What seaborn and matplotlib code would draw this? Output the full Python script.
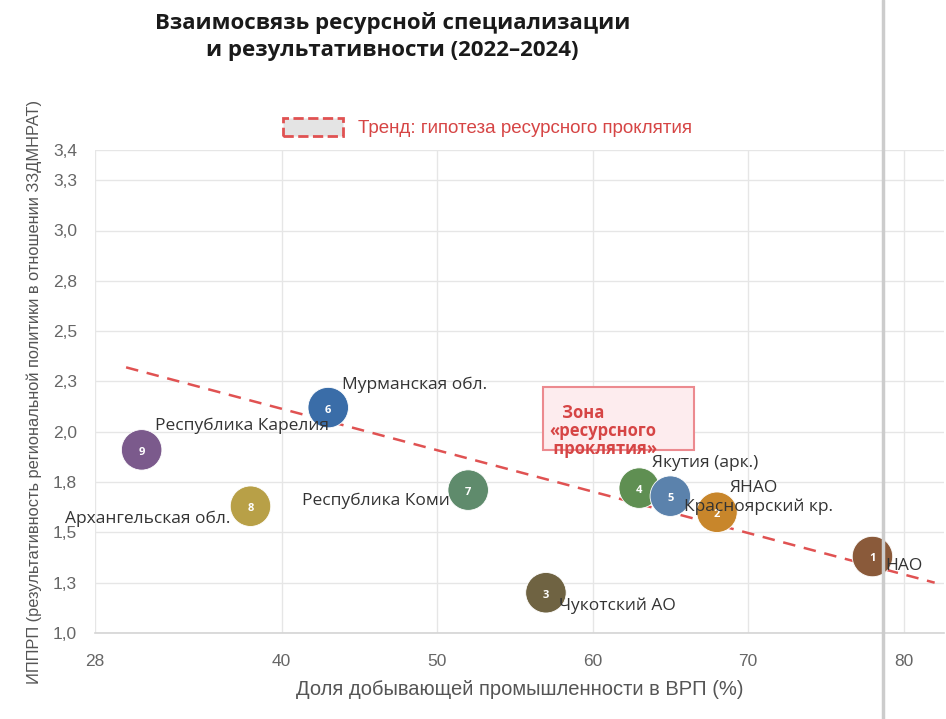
import numpy as np
import pandas as pd
import seaborn as sns
import matplotlib.pyplot as plt
from matplotlib.patches import Patch, Rectangle
from matplotlib.lines import Line2D

# Regions, numbered as in the original chart
numbers = [1, 2, 3, 4, 5, 6, 7, 8, 9]
regions = ["НАО", "ЯНАО", "Чукотский АО", "Якутия (арк.)", "Красноярский кр.",
           "Мурманская обл.", "Республика Коми", "Архангельская обл.",
           "Республика Карелия"]
mining_share = [78, 68, 57, 63, 65, 43, 52, 38, 31]           # % of GRP
ipprp = [1.38, 1.60, 1.20, 1.72, 1.68, 2.12, 1.71, 1.63, 1.91]
colors = ["#8a5a3a", "#c8862b", "#6f6342", "#5f8f52", "#5b82ac",
          "#3a6da8", "#5f8b6c", "#b8a047", "#7b5a8c"]

trend_x = [30, 82]
trend_y = [2.32, 1.25]

x_ticks = [28, 40, 50, 60, 70, 80]
y_ticks = [1.0, 1.25, 1.5, 1.75, 2.0, 2.25, 2.5, 2.75, 3.0, 3.25, 3.4]
y_tick_labels = ["1,0", "1,3", "1,5", "1,8", "2,0", "2,3", "2,5", "2,8",
                 "3,0", "3,3", "3,4"]

df = pd.DataFrame({"num": numbers, "region": regions,
                   "x": mining_share, "y": ipprp})

sns.set_theme(style="white")
plt.rcParams["font.family"] = ["Open Sans", "DejaVu Sans"]

fig = plt.figure(figsize=(9.46, 7.19), dpi=100)
ax = fig.add_axes([95 / 946, 86 / 719, 849 / 946, 483 / 719])

# trend line
ax.plot(trend_x, trend_y, color="#e05252", lw=1.8, ls=(0, (5, 3.5)), zorder=2)

sns.scatterplot(data=df, x="x", y="y", hue="region", palette=colors,
                s=850, edgecolor="white", linewidth=0.6, legend=False,
                zorder=3, ax=ax)

for _, r in df.iterrows():
    ax.text(r.x, r.y - 0.012, str(r.num), color="white", fontsize=8,
            fontweight="bold", ha="center", va="center", zorder=4)

# label placement: offset in pixels from bubble centre
label_pos = {
    "НАО": (13, -9, "left"), "ЯНАО": (13, 24, "left"),
    "Чукотский АО": (13, -13, "left"), "Якутия (арк.)": (13, 25, "left"),
    "Красноярский кр.": (14, -11, "left"), "Мурманская обл.": (14, 23, "left"),
    "Республика Коми": (-18, -11, "right"),
    "Архангельская обл.": (-20, -13, "right"),
    "Республика Карелия": (13, 24, "left"),
}
for _, r in df.iterrows():
    dx, dy, ha = label_pos[r.region]
    ax.annotate(r.region, (r.x, r.y), xytext=(dx, dy),
                textcoords="offset pixels", ha=ha, va="center",
                fontsize=12.5, color="#333333", zorder=5, annotation_clip=False)

# resource curse zone box
ax.add_patch(Rectangle((56.8, 1.91), 9.7, 0.314, facecolor="#fdecee",
                       edgecolor="#ec8a8f", lw=1.5, zorder=1))
ax.text(57.2, 2.005, "   Зона\n«ресурсного\n проклятия»", color="#d64545",
        fontsize=12, fontweight="bold", ha="left", va="center",
        linespacing=1.0, zorder=5)

ax.set_xlim(28, 82.6)
ax.set_ylim(1.0, 3.4)
ax.set_xticks(x_ticks)
ax.set_yticks(y_ticks)
ax.set_yticklabels(y_tick_labels)
ax.grid(True, color="#e6e6e6", lw=1)
for side in ["top", "right", "left"]:
    ax.spines[side].set_visible(False)
ax.spines["bottom"].set_color("#d4d4d4")
ax.spines["bottom"].set_linewidth(1.2)
ax.tick_params(axis="x", length=10, color="#e6e6e6", pad=5, labelsize=12.5,
               labelcolor="#666666")
ax.tick_params(axis="y", length=5, color="#e6e6e6", pad=8, labelsize=12.5,
               labelcolor="#666666")
for lab in ax.get_xticklabels() + ax.get_yticklabels():
    lab.set_family("Liberation Sans")

ax.set_xlabel("Доля добывающей промышленности в ВРП (%)", fontsize=14.5,
              color="#555555", family="Liberation Sans", labelpad=8)
ax.set_ylabel("ИППРП (результативность региональной политики в отношении ЗЗДМНРАТ)",
              fontsize=11.8, color="#555555", family="Liberation Sans",
              labelpad=8)

leg = ax.legend(handles=[Patch(facecolor="#e4e4e4", edgecolor="#e05252",
                               linestyle="--", linewidth=2)],
                labels=["Тренд: гипотеза ресурсного проклятия"],
                loc="center", bbox_to_anchor=(0.462, 1.047), frameon=False,
                handlelength=3.2, handleheight=1.1, fontsize=13.5)
for t in leg.get_texts():
    t.set_color("#d64545")
    t.set_family("Liberation Sans")

fig.text(0.415, 0.949, "Взаимосвязь ресурсной специализации\nи результативности (2022–2024)",
         ha="center", va="center", fontsize=16, fontweight="bold",
         color="#1a1a1a", linespacing=1.4)

# grey separator on the right
fig.add_artist(Line2D([883 / 946, 883 / 946], [0, 1], color="#cccccc", lw=2.5))

fig.savefig("out.png", dpi=100)
